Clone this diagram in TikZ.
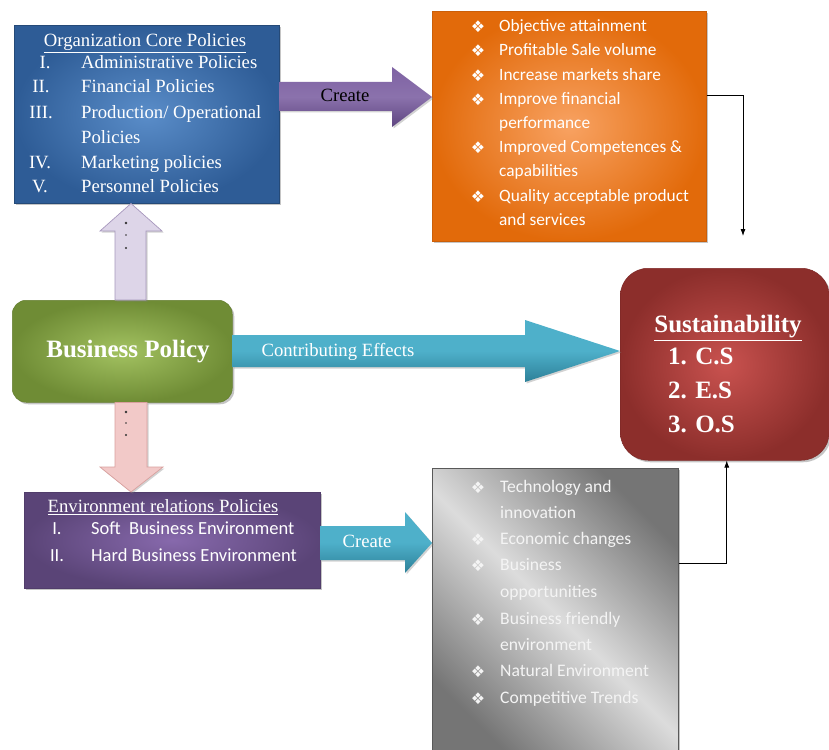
\documentclass[tikz,border=0pt]{standalone}
\usepackage{fontspec}
\setmainfont{Liberation Serif}
\newfontfamily\calfont{Carlito}
\newfontfamily\dvfont{DejaVu Sans}
\usetikzlibrary{shadows,calc,arrows.meta}
\definecolor{blueD}{HTML}{2E5C96}
\definecolor{blueL}{HTML}{5A8DC9}
\definecolor{orD}{HTML}{E26A0A}
\definecolor{orL}{HTML}{F8A262}
\definecolor{grD}{HTML}{6F8C35}
\definecolor{grL}{HTML}{A3C261}
\definecolor{rdD}{HTML}{8C2E2B}
\definecolor{rdL}{HTML}{C9524F}
\definecolor{puD}{HTML}{5A4477}
\definecolor{puL}{HTML}{8769AC}
\definecolor{gyD}{HTML}{757575}
\definecolor{gyL}{HTML}{DCDCDC}
\definecolor{tlD}{HTML}{2D8098}
\definecolor{tlL}{HTML}{4EB0CA}
\definecolor{paD}{HTML}{5E4580}
\definecolor{paL}{HTML}{7E62A3}
\definecolor{lvF}{HTML}{DDD5E8}
\definecolor{lvE}{HTML}{A797BD}
\definecolor{pkF}{HTML}{F2C9C8}
\definecolor{pkE}{HTML}{D9A09E}
\definecolor{txgray}{HTML}{F4F4F4}
\begin{document}
\begin{tikzpicture}[x=1pt,y=-1pt,
  boxshape/.style={inner sep=0pt, anchor=north west, drop shadow={opacity=0.45,shadow xshift=2pt,shadow yshift=-2pt}},
  sertext/.style={inner sep=0pt, text height=13pt, text depth=4pt, font=\fontsize{18.7}{20}\selectfont, text=white},
  caltext/.style={inner sep=0pt, text height=13pt, text depth=4pt, font=\calfont\fontsize{17.3}{19}\selectfont, text=white},
  purtext/.style={caltext, font=\calfont\fontsize{18.5}{20}\selectfont},
  graytext/.style={caltext, text=txgray, font=\calfont\fontsize{17.6}{19}\selectfont, anchor=west},
  bullet/.style={inner sep=0pt, font=\dvfont\fontsize{16}{18}\selectfont, text=white},
  bigtext/.style={inner sep=0pt, font=\bfseries\fontsize{25}{28}\selectfont, text=white},
  blockarrow/.style={drop shadow={opacity=0.35,shadow xshift=1.5pt,shadow yshift=-1.5pt}},
  conn/.style={draw=black, line width=0.8pt, -{Latex[length=7pt,width=5pt]}}
]
\useasboundingbox (0,0) rectangle (829,749);
\fill[white] (0,0) rectangle (829,749);

% ---- boxes
\node[boxshape, minimum width=265pt, minimum height=178pt, inner color=blueL, outer color=blueD, draw=blueD!80!black, line width=0.5pt] (blue) at (14,25) {};
\node[boxshape, minimum width=274pt, minimum height=230pt, inner color=orL, outer color=orD, draw=orD!90!black, line width=0.5pt] (orange) at (432,11) {};
\node[boxshape, minimum width=220pt, minimum height=102pt, rounded corners=14pt, inner color=grL, outer color=grD, draw=grD!90!black, line width=0.5pt] (green) at (12,300) {};
\node[boxshape, minimum width=209pt, minimum height=192pt, rounded corners=28pt, inner color=rdL, outer color=rdD, draw=rdD!90!black, line width=0.5pt] (red) at (620,268) {};
\node[boxshape, minimum width=296pt, minimum height=96pt, inner color=puL, outer color=puD, draw=puD!90!black, line width=0.5pt] (purple) at (24,492) {};
\node[boxshape, minimum width=246pt, minimum height=290pt, top color=gyD, bottom color=gyD, middle color=gyL, shading angle=-45, draw=gray!70!black, line width=0.5pt] (gray) at (432,468) {};

% ---- block arrows
\shade[blockarrow, top color=paL, bottom color=paD, middle color=paL!90!white]
  (blue.east |- 0,82) -- (392,82) -- (392,67) -- (orange.west |- 0,97) -- (392,127) -- (392,111) -- (blue.east |- 0,111) -- cycle;
\node[sertext, text=black] (create1) at (345,97) {Create};

\shade[blockarrow, top color=tlL, bottom color=tlD, middle color=tlL]
  (green.east |- 0,335) -- (525,335) -- (525,320) -- (red.west |- 0,351) -- (525,382) -- (525,367) -- (green.east |- 0,367) -- cycle;
\node[sertext] (contrib) at (338,352) {Contributing Effects};

\shade[blockarrow, top color=tlL, bottom color=tlD, middle color=tlL]
  (purple.east |- 0,526) -- (405,526) -- (405,512) -- (gray.west |- 0,543) -- (405,573) -- (405,560) -- (purple.east |- 0,560) -- cycle;
\node[sertext] (create2) at (367,543) {Create};

\filldraw[blockarrow, fill=lvF, draw=lvE, line width=0.7pt]
  (115,0 |- green.north) -- (115,231) -- (100,231) -- (131,0 |- blue.south) -- (162,231) -- (146,231) -- (146,0 |- green.north) -- cycle;
\filldraw[blockarrow, fill=pkF, draw=pkE, line width=0.7pt]
  (115,0 |- green.south) -- (115,467) -- (100,467) -- (131,0 |- purple.north) -- (163,467) -- (147,467) -- (147,0 |- green.south) -- cycle;
\foreach \yy/\rr in {223/1.4,235/0.8,248/1.2,412/1.4,423/0.8,435/1.2}
  \fill[black!80] (126,\yy) circle (\rr pt);

% ---- connectors
\coordinate (orDown) at (743,236);
\draw[conn] (orange.east |- 0,95) -| (orDown);
\draw[conn] (gray.east |- 0,563) -| ($(red.south)+(2,0)$);

% ---- blue box text
\node[sertext] (bt) at (145,42) {\underline{Organization Core Policies}};
\node[sertext] (bn1) at (45,64) {I.};
\node[sertext] (bn2) at (41,88) {II.};
\node[sertext] (bn3) at (41,114) {III.};
\node[sertext] (bn4) at (40,164) {IV.};
\node[sertext] (bn5) at (40,188) {V.};
\node[sertext, anchor=west] (bi1) at (81,64) {Administrative Policies};
\node[sertext, anchor=west] (bi2) at (81,88) {Financial Policies};
\node[sertext, anchor=west] (bi3) at (81,114) {Production/ Operational};
\node[sertext, anchor=west] (bi3b) at (81,139) {Policies};
\node[sertext, anchor=west] (bi4) at (81,164) {Marketing policies};
\node[sertext, anchor=west] (bi5) at (81,188) {Personnel Policies};

% ---- orange box text
\foreach \yy [count=\i] in {27,51,76,100,148,197}
  \node[bullet] (ob\i) at (478,\yy) {❖};
\node[caltext, anchor=west] (o1) at (499,27) {Objective attainment};
\node[caltext, anchor=west] (o2) at (499,51) {Profitable Sale volume};
\node[caltext, anchor=west] (o3) at (499,76) {Increase markets share};
\node[caltext, anchor=west] (o4) at (499,100) {Improve financial};
\node[caltext, anchor=west] (o4b) at (499,124) {performance};
\node[caltext, anchor=west] (o5) at (499,148) {Improved Competences \&};
\node[caltext, anchor=west] (o5b) at (499,172) {capabilities};
\node[caltext, anchor=west] (o6) at (499,197) {Quality acceptable product};
\node[caltext, anchor=west] (o6b) at (499,221) {and services};

% ---- green text
\node[bigtext] (bp) at (128,352) {Business Policy};

% ---- red text
\node[bigtext] (sus) at (728,328) {\underline{Sustainability}};
\node[bigtext, anchor=west] (s1) at (668,356) {1. C.S};
\node[bigtext, anchor=west] (s2) at (668,390) {2. E.S};
\node[bigtext, anchor=west] (s3) at (668,424) {3. O.S};

% ---- purple box text
\node[sertext] (pt) at (163,508) {\underline{Environment relations Policies}};
\node[purtext] (pn1) at (57,530) {I.};
\node[purtext] (pn2) at (57,557) {II.};
\node[purtext, anchor=west] (p1) at (91,530) {Soft\ \ Business Environment};
\node[purtext, anchor=west] (p2) at (91,557) {Hard Business Environment};

% ---- gray box text
\foreach \yy [count=\i] in {488,540,566,620,672,699}
  \node[bullet, text=txgray] (gb\i) at (478,\yy) {❖};
\node[graytext] (g1) at (500,488) {Technology and};
\node[graytext] (g1b) at (500,514) {innovation};
\node[graytext] (g2) at (500,540) {Economic changes};
\node[graytext] (g3) at (500,566) {Business};
\node[graytext] (g3b) at (500,593) {opportunities};
\node[graytext] (g4) at (500,620) {Business friendly};
\node[graytext] (g4b) at (500,646) {environment};
\node[graytext] (g5) at (500,672) {Natural Environment};
\node[graytext] (g6) at (500,699) {Competitive Trends};
\end{tikzpicture}
\end{document}
